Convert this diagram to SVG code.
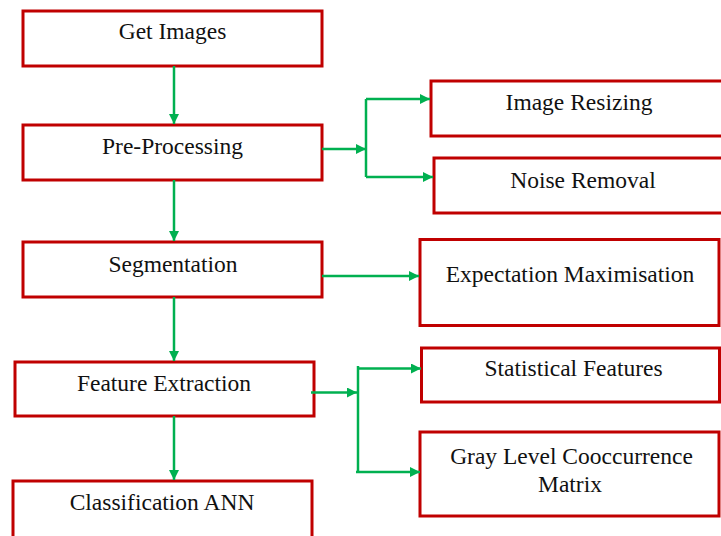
<svg xmlns="http://www.w3.org/2000/svg" width="721" height="536" viewBox="0 0 721 536">
<defs>
<marker id="ah" viewBox="0 0 10 10" refX="10" refY="5" markerWidth="11" markerHeight="10" markerUnits="userSpaceOnUse" orient="auto">
<path d="M0,0 L10,5 L0,10 Z" fill="#00B050"/>
</marker>
<style>
.box{fill:#fff;stroke:#C00000;stroke-width:3}
.lbl{font-size:23.5px;fill:#111;text-anchor:middle}
.c{fill:none;stroke:#00B050;stroke-width:2.5}
.a{marker-end:url(#ah)}
</style>
</defs>
<rect width="721" height="536" fill="#fff"/>
<g font-family="'Liberation Serif', 'DejaVu Serif', serif">
<g id="get-images"><rect class="box" x="23" y="11" width="299" height="55"/><text class="lbl" x="172.5" y="38.5">Get Images</text></g>
<g id="pre-processing"><rect class="box" x="23" y="125" width="299" height="55"/><text class="lbl" x="172.5" y="153.5">Pre-Processing</text></g>
<g id="segmentation"><rect class="box" x="23" y="242" width="299" height="55"/><text class="lbl" x="173" y="271.5">Segmentation</text></g>
<g id="feature-extraction"><rect class="box" x="15" y="362" width="299" height="54"/><text class="lbl" x="164" y="390.5">Feature Extraction</text></g>
<g id="classification"><rect class="box" x="13" y="481" width="299" height="60"/><text class="lbl" x="162" y="510">Classification ANN</text></g>
<g id="image-resizing"><rect class="box" x="431" y="81" width="295" height="55"/><text class="lbl" x="579" y="110">Image Resizing</text></g>
<g id="noise-removal"><rect class="box" x="434" y="158" width="292" height="55"/><text class="lbl" x="583" y="187.5">Noise Removal</text></g>
<g id="expectation-maximisation"><rect class="box" x="420" y="239.5" width="299" height="86"/><text class="lbl" x="570" y="282">Expectation Maximisation</text></g>
<g id="statistical-features"><rect class="box" x="421.5" y="348" width="298" height="54"/><text class="lbl" x="573.5" y="376">Statistical Features</text></g>
<g id="glcm"><rect class="box" x="420" y="432" width="299" height="84"/><text class="lbl" x="571.5" y="463.5">Gray Level Cooccurrence</text><text class="lbl" x="570" y="492">Matrix</text></g>
</g>
<g id="connectors">
<path class="c a" d="M174,66 V124"/>
<path class="c a" d="M174,180 V241"/>
<path class="c a" d="M174,297 V361"/>
<path class="c a" d="M174,416 V480"/>
<path class="c a" d="M322,149 H366"/>
<path class="c" d="M366,99 V177"/>
<path class="c a" d="M366,99 H430"/>
<path class="c a" d="M366,177 H433"/>
<path class="c a" d="M322,276 H419"/>
<path class="c a" d="M311,392.5 H357"/>
<path class="c" d="M358,366 V472"/>
<path class="c a" d="M358,368.5 H421"/>
<path class="c a" d="M356,472 H420"/>
</g>
</svg>
